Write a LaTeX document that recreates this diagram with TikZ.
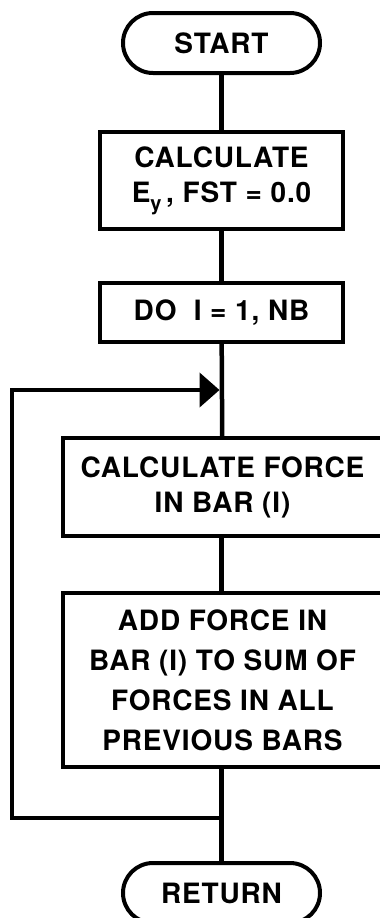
\documentclass[tikz,border=0pt]{standalone}
\usepackage{fontspec}
\setmainfont{TeX Gyre Heros}[LetterSpace=3]
\usetikzlibrary{arrows.meta}
\begin{document}
\begin{tikzpicture}[x=1pt,y=-1pt,
  box/.style={draw,line width=4pt,rectangle,align=center,inner sep=0pt,
    font=\bfseries\fontsize{28}{35}\selectfont},
  term/.style={box,rounded corners=30pt,minimum width=197pt,minimum height=60pt},
  link/.style={line width=4.5pt}]
\useasboundingbox (0,0) rectangle (380,918);
\node[term] (start) at (221.5,43) {START};
\node[box,minimum width=243pt,minimum height=97pt] (calc) at (221.5,180.5)
  {CALCULATE\\E\raisebox{-8pt}{\fontsize{20}{20}\selectfont y}\,, FST = 0.0};
\node[box,minimum width=243pt,minimum height=59pt] (do) at (221.5,312.5) {DO\ \ I = 1, NB};
\node[box,minimum width=319pt,minimum height=98pt] (force) at (222.5,487)
  {CALCULATE FORCE\\IN BAR (I)};
\node[box,minimum width=319pt,minimum height=174pt,
  font=\bfseries\fontsize{28}{40}\selectfont] (add) at (222.5,680)
  {ADD FORCE IN\\BAR (I) TO SUM OF\\FORCES IN ALL\\PREVIOUS BARS};
\node[term] (ret) at (221.5,893) {RETURN};
\coordinate (j) at (221.5,818);
\coordinate (cl) at (12,818);
\coordinate (cu) at (12,390);
\coordinate (m) at (219.5,390);
\draw[link] (start) -- (calc);
\draw[link] (calc) -- (do);
\draw[link] (do) -- (force);
\draw[link] (force.south -| start) -- (add.north -| start);
\draw[link] (add.south -| start) -- (ret);
\draw[link,line join=miter,-{Triangle[length=20pt,width=34pt]}] (j) -- (cl) -- (cu) -- (m);
\end{tikzpicture}
\end{document}
